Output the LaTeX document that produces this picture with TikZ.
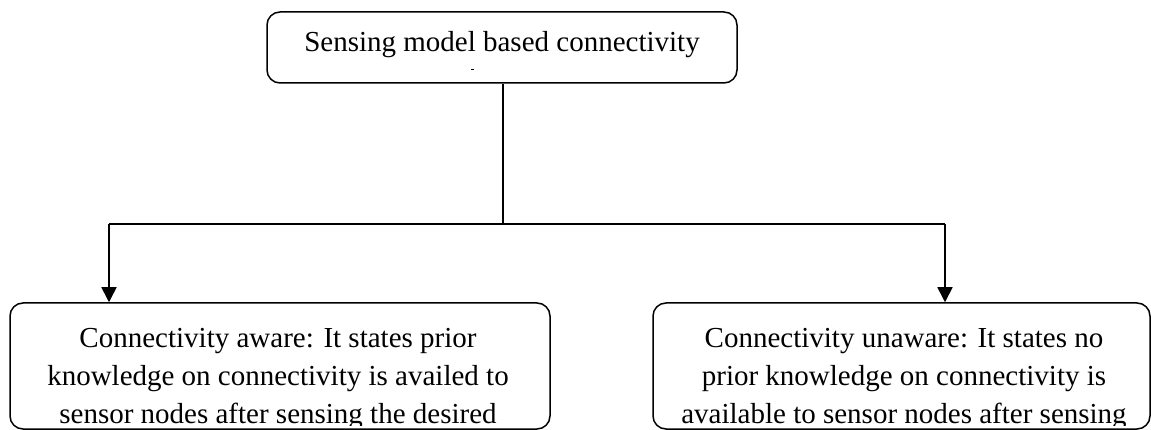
\documentclass[tikz,border=0pt]{standalone}
\usepackage{fontspec}
\setmainfont{Liberation Serif}
\usetikzlibrary{arrows.meta}
\begin{document}
\begin{tikzpicture}[x=1pt,y=-1pt,
  box/.style={draw, line width=1.5pt, rounded corners=13pt, inner sep=0pt},
  boxtext/.style={anchor=base, inner sep=0pt, font=\fontsize{29}{38}\selectfont},
  link/.style={line width=1.6pt},
  arr/.style={line width=1.6pt, -{Triangle[length=15pt,width=15pt]}}]
\useasboundingbox (0,0) rectangle (1151,430);
% top box
\node[box, minimum width=470pt, minimum height=71pt] (T) at (502,47.5) {};
\node[boxtext] (Tt) at (502,52) {Sensing model based connectivity};
\draw[line width=1pt] (471,70) -- (474,70);
% bottom boxes
\node[box, minimum width=540pt, minimum height=126pt] (L) at (280,366) {};
\node[box, minimum width=497pt, minimum height=126pt] (R) at (901.5,366) {};
\begin{scope}
\clip (0,0) rectangle (1151,425);
\node[boxtext] (Lt) at (278,347) {\parbox[t]{540pt}{\centering Connectivity aware: It states prior\\knowledge on connectivity is availed to\\sensor nodes after sensing the desired}};
\node[boxtext] (Rt) at (904,347) {\parbox[t]{497pt}{\centering Connectivity unaware: It states no\\prior knowledge on connectivity is\\available to sensor nodes after sensing}};
\end{scope}
% connectors
\coordinate (J) at (503,224);
\coordinate (LA) at (109,224);
\coordinate (RA) at (945,224);
\draw[link] (T.south -| J) -- (J);
\draw[link] (LA) -- (RA);
\draw[arr] (LA) -- (LA |- L.north);
\draw[arr] (RA) -- (RA |- R.north);
\end{tikzpicture}
\end{document}
